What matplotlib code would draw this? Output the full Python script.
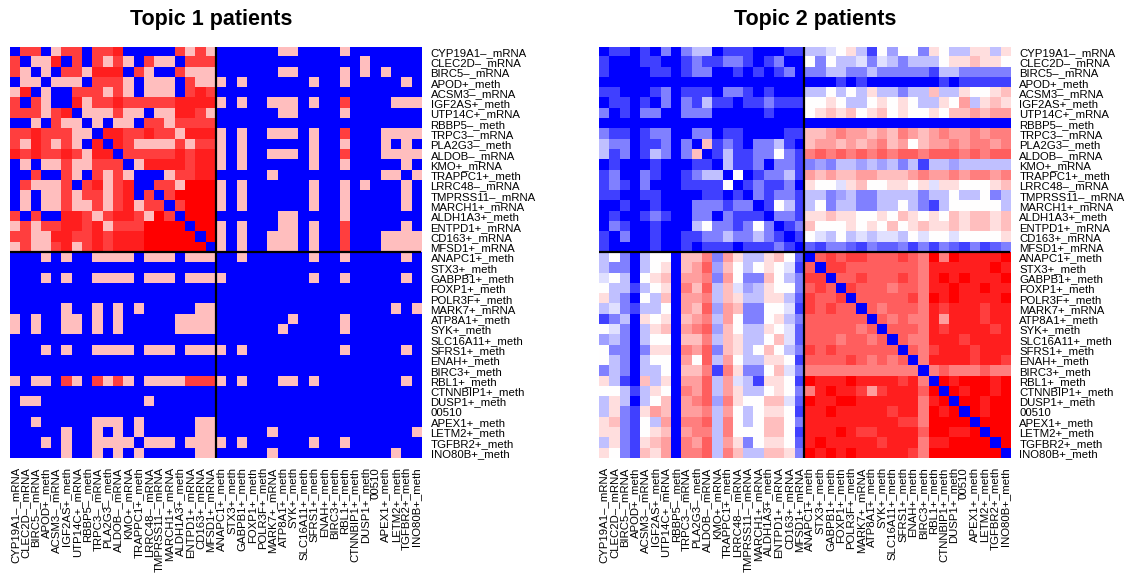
import numpy as np
import matplotlib
matplotlib.use("Agg")
import matplotlib.pyplot as plt
from matplotlib.colors import LinearSegmentedColormap

features = [
    "CYP19A1–_mRNA", "CLEC2D–_mRNA", "BIRC5–_mRNA", "APOD+_meth", "ACSM3–_mRNA",
    "IGF2AS+_meth", "UTP14C+_mRNA", "RBBP5–_meth", "TRPC3–_mRNA", "PLA2G3–_meth",
    "ALDOB–_mRNA", "KMO+_mRNA", "TRAPPC1+_meth", "LRRC48–_mRNA", "TMPRSS11–_mRNA",
    "MARCH1+_mRNA", "ALDH1A3+_meth", "ENTPD1+_mRNA", "CD163+_mRNA", "MFSD1+_mRNA",
    "ANAPC1+_meth", "STX3+_meth", "GABPB1+_meth", "FOXP1+_meth", "POLR3F+_meth",
    "MARK7+_mRNA", "ATP8A1+_meth", "SYK+_meth", "SLC16A11+_meth", "SFRS1+_meth",
    "ENAH+_meth", "BIRC3+_meth", "RBL1+_meth", "CTNNBIP1+_meth", "DUSP1+_meth",
    "00510", "APEX1+_meth", "LETM2+_meth", "TGFBR2+_meth", "INO80B+_meth",
]
group_split = 20
titles = ["Topic 1 patients", "Topic 2 patients"]

# Upper triangle of each symmetric matrix; row i holds columns i+1..39.
# One character per cell on a 0..16 scale (base-17 digit): 0 blue, 8 white, 16 red.
topic1_upper = [
    "ee0aee0eef00000eaea" "000000aa0000a0000000",
    "aaf0e0eaea0eaa0eee" "00000000000000a00000",
    "a0eeafff0ea00eaaa" "000000aa0000a0a0a000",
    "aaa0eeea0aaa0eaa" "a0a000000a00a00000a0",
    "0eeeaea0aaa0efe" "00000000000000000000",
    "faeefeeeeeffff" "a0a00aaa0a00e0000aaa",
    "aaaeaa0aaffea" "000000aa0000a0000000",
    "a0aa0eeaeeee" "00000000000000000000",
    "ffeefeeafff" "a0a00aaa0a00e000aaaa",
    "feaaaaeaee" "a0a000000a00a000a0a0",
    "eeeeefeff" "a0a00aaa0a00e000aaaa",
    "affffeff" "a0a000000a00a00000a0",
    "00aeeff" "00000a0000000000aa0a",
    "eeaggg" "a0a000000a00a0a000a0",
    "egggg" "a0a000000a00a00000a0",
    "eggg" "a0a000000a00a00000a0",
    "ggg" "000000aa0000a0000000",
    "gg" "a0a000aa0a00e00000a0",
    "g" "a0a00aaa0a00e000aaaa",
    "a0a00aaa0a00e000aaaa",
    "0a000000a00a00000a0",
    "000000000000000000",
    "000000a00a00000a0",
    "0000000000000000",
    "000000000000000",
    "00000000000a0a",
    "a0000a0000000",
    "0000a0000000",
    "00000000000",
    "00a00000a0",
    "000000000",
    "00000000",
    "00000a0",
    "000000",
    "00000",
    "0000",
    "000",
    "0a",
    "0",
]

topic2_upper = [
    "2202040466022200022" "66789628588498669969",
    "002200242244202400" "8486674764666899a998",
    "00220244002020240" "44664464444426644444",
    "0000000000000000" "00020200000002022222",
    "240222044202000" "668686966466a669889a",
    "40426220224222" "889866898986698b69a9",
    "0444000002000" "89a9a89a898898aababb",
    "000000000000" "00000000000000000000",
    "44022000022" "aabcbbabacbabcbbcbcc",
    "a242044620" "abbababcab8abbcbccbc",
    "262244842" "cdcdcdcdcddcdddcdcdd",
    "62240442" "45466565646266566666",
    "8024462" "babaabbaaabcbbcbccbc",
    "242240" "98879a8899897998889a",
    "42442" "66456446666466866846",
    "2862" "68466446686426888886",
    "442" "99a998898a9898a9aa9a",
    "24" "a8889898a89a99a9aa9a",
    "2" "87686767768788788889",
    "32443243342424324234",
    "dedeedddedc" "gcgffffg",
    "eedddddddc" "ffffffgf",
    "ddedddedc" "fgfgfffg",
    "edddcddc" "ffgffgff",
    "dddddec" "gfgffffg",
    "dcdddc" "fefffeff",
    "dcdcc" "fbfffeff",
    "dddc" "feffffef",
    "dcc" "fffeffff",
    "dc" "efffefff",
    "c" "ffffeffe",
    "cdcccdcc",
    "gfgggfg",
    "gfggfg",
    "ggfgg",
    "gfgg",
    "ggg",
    "gg",
    "g",
]


def build(upper):
    n = len(features)
    m = np.zeros((n, n))
    for i, row in enumerate(upper):
        for k, ch in enumerate(row):
            j = i + 1 + k
            v = int(ch, 17)
            m[i, j] = v
            m[j, i] = v
    return m


cmap = LinearSegmentedColormap.from_list("bwr_r", ["#0000FF", "#FFFFFF", "#FF0000"])
plt.rcParams["font.family"] = ["Liberation Sans", "DejaVu Sans"]

W, H = 1128, 575
fig = plt.figure(figsize=(W / 100, H / 100), dpi=100)

panels = [
    (topic1_upper, 10.0, 211),
    (topic2_upper, 598.7, 815),
]
top_px, size_px = 46.7, 411.5
n = len(features)
for (upper, left_px, title_x), title in zip(panels, titles):
    ax = fig.add_axes([left_px / W, 1 - (top_px + size_px) / H, size_px / W, size_px / H])
    m = build(upper)
    ax.imshow(m, cmap=cmap, vmin=0, vmax=16, interpolation="nearest", aspect="auto")
    ax.axhline(group_split - 0.5, color="black", lw=1.6)
    ax.axvline(group_split - 0.5, color="black", lw=1.6)
    ax.set_xlim(-0.5, n - 0.5)
    ax.set_ylim(n - 0.5, -0.5)
    for s in ax.spines.values():
        s.set_visible(False)
    ax.set_xticks(range(n))
    ax.set_xticklabels(features, rotation=90, fontsize=8.2, va="top", ha="center")
    ax.set_yticks(range(n))
    ax.set_yticklabels(features, fontsize=8.2)
    ax.yaxis.tick_right()
    ax.tick_params(axis="both", length=0)
    ax.tick_params(axis="y", pad=6.5)
    ax.tick_params(axis="x", pad=6.5)
    fig.text(title_x / W, 1 - 20 / H, title, ha="center", va="center",
             fontsize=15.5, fontweight="bold")

fig.savefig("out.png", dpi=100)
